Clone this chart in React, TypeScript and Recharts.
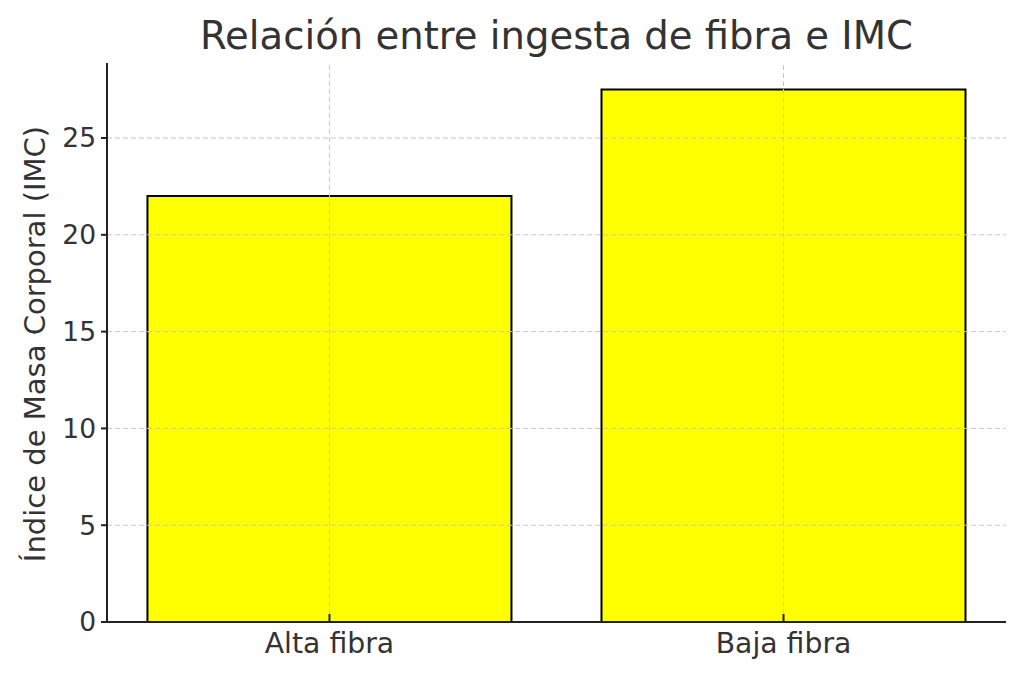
import React from 'react';
import { BarChart, Bar, XAxis, YAxis, ReferenceLine } from 'recharts';

const categories = ['Alta fibra', 'Baja fibra'];
const imcValues = [22, 27.5];
const yTicks = [0, 5, 10, 15, 20, 25];
const xPositions = [0, 1];

const data = categories.map((name, i) => ({ pos: xPositions[i], name, imc: imcValues[i] }));

const FONT = '"DejaVu Sans", sans-serif';
const TEXT = '#333333';
const AXIS = '#222222';
const GRID = '#c8c8c8';

export default function App() {
  return (
    <div style={{ position: 'absolute', left: 0, top: 0, width: 1024, height: 677, background: '#fff', fontFamily: FONT }}>
      <BarChart
        width={1024}
        height={677}
        data={data}
        margin={{ top: 63, right: 18, bottom: 0, left: 0 }}
      >
        <XAxis
          dataKey="pos"
          type="number"
          domain={[-0.49, 1.49]}
          ticks={xPositions}
          allowDataOverflow
          height={55}
          tickFormatter={(v: number) => categories[v] ?? ''}
          stroke={AXIS}
          strokeWidth={2}
          tickSize={-8}
          tickMargin={19}
          tick={{ fill: TEXT, fontSize: 28.3, fontFamily: FONT }}
        />
        <YAxis
          type="number"
          domain={[0, 28.875]}
          ticks={yTicks}
          allowDataOverflow
          width={107}
          stroke={AXIS}
          strokeWidth={2}
          tickSize={6}
          tickMargin={5}
          tick={{ fill: TEXT, fontSize: 26.5, fontFamily: FONT }}
          label={{
            content: () => (
              <text
                x={35}
                y={344}
                transform="rotate(-90 35 344)"
                textAnchor="middle"
                dominantBaseline="central"
                fill={TEXT}
                fontSize={29}
                fontFamily={FONT}
              >
                Índice de Masa Corporal (IMC)
              </text>
            ),
          }}
        />
        <Bar
          dataKey="imc"
          fill="#ffff00"
          stroke="#000000"
          strokeWidth={2}
          barSize={364}
          isAnimationActive={false}
        />
        {yTicks.filter((t) => t > 0).map((t) => (
          <ReferenceLine key={'y' + t} y={t} stroke={GRID} strokeDasharray="5 3" strokeWidth={1} />
        ))}
        {xPositions.map((p) => (
          <ReferenceLine key={'x' + p} x={p} stroke={GRID} strokeDasharray="5 3" strokeWidth={1} />
        ))}
      </BarChart>
      <svg width={1024} height={677} style={{ position: 'absolute', left: 0, top: 0, pointerEvents: 'none' }}>
        <text x={556.5} y={49} textAnchor="middle" fill={TEXT} fontSize={38.6} fontFamily={FONT}>
          Relación entre ingesta de fibra e IMC
        </text>
      </svg>
    </div>
  );
}
